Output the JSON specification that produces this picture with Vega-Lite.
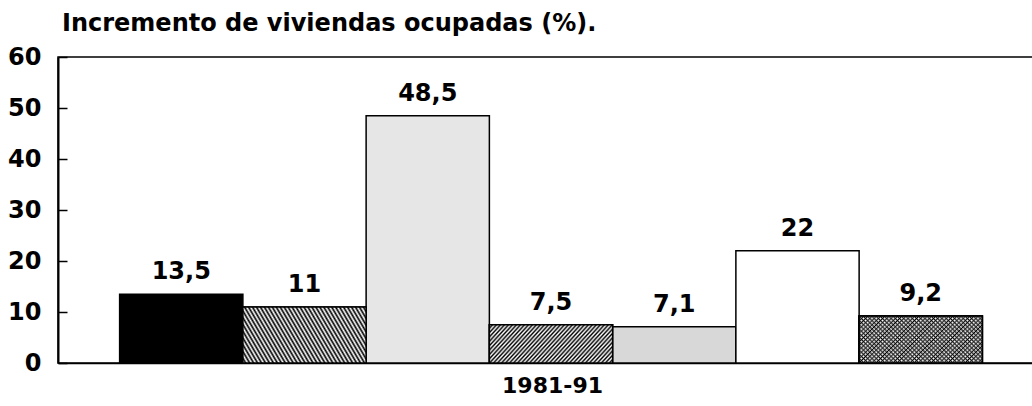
{
  "$schema": "https://vega.github.io/schema/vega-lite/v6.json",
  "width": 986,
  "height": 306,
  "autosize": {"type": "none"},
  "padding": {"left": 58, "top": 57, "right": 0, "bottom": 43},
  "background": "#ffffff",
  "config": {
    "view": {"stroke": "#000", "strokeWidth": 1.5},
    "font": "DejaVu Sans"
  },
  "title": {
    "text": "Incremento de viviendas ocupadas (%).",
    "anchor": "start",
    "frame": "group",
    "offset": 9,
    "dx": 4,
    "fontSize": 24,
    "font": "DejaVu Sans",
    "fontWeight": "bold",
    "color": "#000"
  },
  "data": {
    "values": [
      {"serie": "A", "valor": 13.5, "etiqueta": "13,5"},
      {"serie": "B", "valor": 11, "etiqueta": "11"},
      {"serie": "C", "valor": 48.5, "etiqueta": "48,5"},
      {"serie": "D", "valor": 7.5, "etiqueta": "7,5"},
      {"serie": "E", "valor": 7.1, "etiqueta": "7,1"},
      {"serie": "F", "valor": 22, "etiqueta": "22"},
      {"serie": "G", "valor": 9.2, "etiqueta": "9,2"}
    ]
  },
  "encoding": {
    "x": {
      "field": "serie",
      "type": "nominal",
      "sort": null,
      "scale": {"domain": ["A", "B", "C", "D", "E", "F", "G"], "paddingInner": 0, "paddingOuter": 0.5},
      "axis": {
        "title": "1981-91",
        "labels": false,
        "ticks": false,
        "domainColor": "#000",
        "domainWidth": 1.5,
        "titleFont": "DejaVu Sans",
        "titleFontSize": 22,
        "titleFontWeight": "bold",
        "titleColor": "#000",
        "titleX": 494,
        "titleY": 12,
        "titleBaseline": "top"
      }
    },
    "y": {
      "field": "valor",
      "type": "quantitative",
      "scale": {"domain": [0, 60]},
      "axis": {
        "title": null,
        "values": [0, 10, 20, 30, 40, 50, 60],
        "grid": false,
        "tickSize": -9,
        "tickWidth": 1.5,
        "tickColor": "#000",
        "domainColor": "#000",
        "domainWidth": 2,
        "labelFont": "DejaVu Sans",
        "labelFontSize": 24,
        "labelFontWeight": "bold",
        "labelColor": "#000",
        "labelPadding": 26
      }
    }
  },
  "layer": [
    {
      "mark": {"type": "bar", "stroke": "#000", "strokeWidth": 1.5},
      "encoding": {
        "fill": {
          "field": "serie",
          "type": "nominal",
          "scale": {"domain": ["A", "B", "C", "D", "E", "F", "G"], "range": ["#000000", "#ffffff", "#e6e6e6", "#ffffff", "#d8d8d8", "#ffffff", "#ffffff"]},
          "legend": null
        }
      }
    },
    {
      "transform": [{"filter": "datum.serie === 'B'"}],
      "mark": {
        "type": "bar", "stroke": "#000", "strokeWidth": 1.5,
        "fill": {"gradient": "linear", "x1": -0.1, "y1": 0.66, "x2": 1.1, "y2": 0.34, "stops": [
          {"offset":0,"color":"#000"},{"offset":0.0125,"color":"#fff"},{"offset":0.025,"color":"#000"},{"offset":0.0375,"color":"#fff"},{"offset":0.05,"color":"#000"},{"offset":0.0625,"color":"#fff"},{"offset":0.075,"color":"#000"},{"offset":0.0875,"color":"#fff"},{"offset":0.1,"color":"#000"},{"offset":0.1125,"color":"#fff"},{"offset":0.125,"color":"#000"},{"offset":0.1375,"color":"#fff"},{"offset":0.15,"color":"#000"},{"offset":0.1625,"color":"#fff"},{"offset":0.175,"color":"#000"},{"offset":0.1875,"color":"#fff"},{"offset":0.2,"color":"#000"},{"offset":0.2125,"color":"#fff"},{"offset":0.225,"color":"#000"},{"offset":0.2375,"color":"#fff"},{"offset":0.25,"color":"#000"},{"offset":0.2625,"color":"#fff"},{"offset":0.275,"color":"#000"},{"offset":0.2875,"color":"#fff"},{"offset":0.3,"color":"#000"},{"offset":0.3125,"color":"#fff"},{"offset":0.325,"color":"#000"},{"offset":0.3375,"color":"#fff"},{"offset":0.35,"color":"#000"},{"offset":0.3625,"color":"#fff"},{"offset":0.375,"color":"#000"},{"offset":0.3875,"color":"#fff"},{"offset":0.4,"color":"#000"},{"offset":0.4125,"color":"#fff"},{"offset":0.425,"color":"#000"},{"offset":0.4375,"color":"#fff"},{"offset":0.45,"color":"#000"},{"offset":0.4625,"color":"#fff"},{"offset":0.475,"color":"#000"},{"offset":0.4875,"color":"#fff"},{"offset":0.5,"color":"#000"},{"offset":0.5125,"color":"#fff"},{"offset":0.525,"color":"#000"},{"offset":0.5375,"color":"#fff"},{"offset":0.55,"color":"#000"},{"offset":0.5625,"color":"#fff"},{"offset":0.575,"color":"#000"},{"offset":0.5875,"color":"#fff"},{"offset":0.6,"color":"#000"},{"offset":0.6125,"color":"#fff"},{"offset":0.625,"color":"#000"},{"offset":0.6375,"color":"#fff"},{"offset":0.65,"color":"#000"},{"offset":0.6625,"color":"#fff"},{"offset":0.675,"color":"#000"},{"offset":0.6875,"color":"#fff"},{"offset":0.7,"color":"#000"},{"offset":0.7125,"color":"#fff"},{"offset":0.725,"color":"#000"},{"offset":0.7375,"color":"#fff"},{"offset":0.75,"color":"#000"},{"offset":0.7625,"color":"#fff"},{"offset":0.775,"color":"#000"},{"offset":0.7875,"color":"#fff"},{"offset":0.8,"color":"#000"},{"offset":0.8125,"color":"#fff"},{"offset":0.825,"color":"#000"},{"offset":0.8375,"color":"#fff"},{"offset":0.85,"color":"#000"},{"offset":0.8625,"color":"#fff"},{"offset":0.875,"color":"#000"},{"offset":0.8875,"color":"#fff"},{"offset":0.9,"color":"#000"},{"offset":0.9125,"color":"#fff"},{"offset":0.925,"color":"#000"},{"offset":0.9375,"color":"#fff"},{"offset":0.95,"color":"#000"},{"offset":0.9625,"color":"#fff"},{"offset":0.975,"color":"#000"},{"offset":0.9875,"color":"#fff"},{"offset":1,"color":"#000"}
        ]}
      }
    },
    {
      "transform": [{"filter": "datum.serie === 'D'"}],
      "mark": {
        "type": "bar", "stroke": "#000", "strokeWidth": 1.5,
        "fill": {"gradient": "linear", "x1": -0.1, "y1": 0.33, "x2": 1.1, "y2": 0.67, "stops": [
          {"offset":0,"color":"#000"},{"offset":0.0125,"color":"#fff"},{"offset":0.025,"color":"#000"},{"offset":0.0375,"color":"#fff"},{"offset":0.05,"color":"#000"},{"offset":0.0625,"color":"#fff"},{"offset":0.075,"color":"#000"},{"offset":0.0875,"color":"#fff"},{"offset":0.1,"color":"#000"},{"offset":0.1125,"color":"#fff"},{"offset":0.125,"color":"#000"},{"offset":0.1375,"color":"#fff"},{"offset":0.15,"color":"#000"},{"offset":0.1625,"color":"#fff"},{"offset":0.175,"color":"#000"},{"offset":0.1875,"color":"#fff"},{"offset":0.2,"color":"#000"},{"offset":0.2125,"color":"#fff"},{"offset":0.225,"color":"#000"},{"offset":0.2375,"color":"#fff"},{"offset":0.25,"color":"#000"},{"offset":0.2625,"color":"#fff"},{"offset":0.275,"color":"#000"},{"offset":0.2875,"color":"#fff"},{"offset":0.3,"color":"#000"},{"offset":0.3125,"color":"#fff"},{"offset":0.325,"color":"#000"},{"offset":0.3375,"color":"#fff"},{"offset":0.35,"color":"#000"},{"offset":0.3625,"color":"#fff"},{"offset":0.375,"color":"#000"},{"offset":0.3875,"color":"#fff"},{"offset":0.4,"color":"#000"},{"offset":0.4125,"color":"#fff"},{"offset":0.425,"color":"#000"},{"offset":0.4375,"color":"#fff"},{"offset":0.45,"color":"#000"},{"offset":0.4625,"color":"#fff"},{"offset":0.475,"color":"#000"},{"offset":0.4875,"color":"#fff"},{"offset":0.5,"color":"#000"},{"offset":0.5125,"color":"#fff"},{"offset":0.525,"color":"#000"},{"offset":0.5375,"color":"#fff"},{"offset":0.55,"color":"#000"},{"offset":0.5625,"color":"#fff"},{"offset":0.575,"color":"#000"},{"offset":0.5875,"color":"#fff"},{"offset":0.6,"color":"#000"},{"offset":0.6125,"color":"#fff"},{"offset":0.625,"color":"#000"},{"offset":0.6375,"color":"#fff"},{"offset":0.65,"color":"#000"},{"offset":0.6625,"color":"#fff"},{"offset":0.675,"color":"#000"},{"offset":0.6875,"color":"#fff"},{"offset":0.7,"color":"#000"},{"offset":0.7125,"color":"#fff"},{"offset":0.725,"color":"#000"},{"offset":0.7375,"color":"#fff"},{"offset":0.75,"color":"#000"},{"offset":0.7625,"color":"#fff"},{"offset":0.775,"color":"#000"},{"offset":0.7875,"color":"#fff"},{"offset":0.8,"color":"#000"},{"offset":0.8125,"color":"#fff"},{"offset":0.825,"color":"#000"},{"offset":0.8375,"color":"#fff"},{"offset":0.85,"color":"#000"},{"offset":0.8625,"color":"#fff"},{"offset":0.875,"color":"#000"},{"offset":0.8875,"color":"#fff"},{"offset":0.9,"color":"#000"},{"offset":0.9125,"color":"#fff"},{"offset":0.925,"color":"#000"},{"offset":0.9375,"color":"#fff"},{"offset":0.95,"color":"#000"},{"offset":0.9625,"color":"#fff"},{"offset":0.975,"color":"#000"},{"offset":0.9875,"color":"#fff"},{"offset":1,"color":"#000"}
        ]}
      }
    },
    {
      "transform": [{"filter": "datum.serie === 'G'"}],
      "mark": {
        "type": "bar", "stroke": "#000", "strokeWidth": 1.5,
        "fill": {"gradient": "linear", "x1": -0.1, "y1": 0.73, "x2": 1.1, "y2": 0.27, "stops": [
          {"offset":0,"color":"#000"},{"offset":0.0125,"color":"#fff"},{"offset":0.025,"color":"#000"},{"offset":0.0375,"color":"#fff"},{"offset":0.05,"color":"#000"},{"offset":0.0625,"color":"#fff"},{"offset":0.075,"color":"#000"},{"offset":0.0875,"color":"#fff"},{"offset":0.1,"color":"#000"},{"offset":0.1125,"color":"#fff"},{"offset":0.125,"color":"#000"},{"offset":0.1375,"color":"#fff"},{"offset":0.15,"color":"#000"},{"offset":0.1625,"color":"#fff"},{"offset":0.175,"color":"#000"},{"offset":0.1875,"color":"#fff"},{"offset":0.2,"color":"#000"},{"offset":0.2125,"color":"#fff"},{"offset":0.225,"color":"#000"},{"offset":0.2375,"color":"#fff"},{"offset":0.25,"color":"#000"},{"offset":0.2625,"color":"#fff"},{"offset":0.275,"color":"#000"},{"offset":0.2875,"color":"#fff"},{"offset":0.3,"color":"#000"},{"offset":0.3125,"color":"#fff"},{"offset":0.325,"color":"#000"},{"offset":0.3375,"color":"#fff"},{"offset":0.35,"color":"#000"},{"offset":0.3625,"color":"#fff"},{"offset":0.375,"color":"#000"},{"offset":0.3875,"color":"#fff"},{"offset":0.4,"color":"#000"},{"offset":0.4125,"color":"#fff"},{"offset":0.425,"color":"#000"},{"offset":0.4375,"color":"#fff"},{"offset":0.45,"color":"#000"},{"offset":0.4625,"color":"#fff"},{"offset":0.475,"color":"#000"},{"offset":0.4875,"color":"#fff"},{"offset":0.5,"color":"#000"},{"offset":0.5125,"color":"#fff"},{"offset":0.525,"color":"#000"},{"offset":0.5375,"color":"#fff"},{"offset":0.55,"color":"#000"},{"offset":0.5625,"color":"#fff"},{"offset":0.575,"color":"#000"},{"offset":0.5875,"color":"#fff"},{"offset":0.6,"color":"#000"},{"offset":0.6125,"color":"#fff"},{"offset":0.625,"color":"#000"},{"offset":0.6375,"color":"#fff"},{"offset":0.65,"color":"#000"},{"offset":0.6625,"color":"#fff"},{"offset":0.675,"color":"#000"},{"offset":0.6875,"color":"#fff"},{"offset":0.7,"color":"#000"},{"offset":0.7125,"color":"#fff"},{"offset":0.725,"color":"#000"},{"offset":0.7375,"color":"#fff"},{"offset":0.75,"color":"#000"},{"offset":0.7625,"color":"#fff"},{"offset":0.775,"color":"#000"},{"offset":0.7875,"color":"#fff"},{"offset":0.8,"color":"#000"},{"offset":0.8125,"color":"#fff"},{"offset":0.825,"color":"#000"},{"offset":0.8375,"color":"#fff"},{"offset":0.85,"color":"#000"},{"offset":0.8625,"color":"#fff"},{"offset":0.875,"color":"#000"},{"offset":0.8875,"color":"#fff"},{"offset":0.9,"color":"#000"},{"offset":0.9125,"color":"#fff"},{"offset":0.925,"color":"#000"},{"offset":0.9375,"color":"#fff"},{"offset":0.95,"color":"#000"},{"offset":0.9625,"color":"#fff"},{"offset":0.975,"color":"#000"},{"offset":0.9875,"color":"#fff"},{"offset":1,"color":"#000"}
        ]}
      }
    },
    {
      "transform": [{"filter": "datum.serie === 'G'"}],
      "mark": {
        "type": "bar", "stroke": "#000", "strokeWidth": 1.5,
        "fill": {"gradient": "linear", "x1": -0.1, "y1": 0.27, "x2": 1.1, "y2": 0.73, "stops": [
          {"offset":0,"color":"#000"},{"offset":0.0125,"color":"rgba(255,255,255,0)"},{"offset":0.025,"color":"#000"},{"offset":0.0375,"color":"rgba(255,255,255,0)"},{"offset":0.05,"color":"#000"},{"offset":0.0625,"color":"rgba(255,255,255,0)"},{"offset":0.075,"color":"#000"},{"offset":0.0875,"color":"rgba(255,255,255,0)"},{"offset":0.1,"color":"#000"},{"offset":0.1125,"color":"rgba(255,255,255,0)"},{"offset":0.125,"color":"#000"},{"offset":0.1375,"color":"rgba(255,255,255,0)"},{"offset":0.15,"color":"#000"},{"offset":0.1625,"color":"rgba(255,255,255,0)"},{"offset":0.175,"color":"#000"},{"offset":0.1875,"color":"rgba(255,255,255,0)"},{"offset":0.2,"color":"#000"},{"offset":0.2125,"color":"rgba(255,255,255,0)"},{"offset":0.225,"color":"#000"},{"offset":0.2375,"color":"rgba(255,255,255,0)"},{"offset":0.25,"color":"#000"},{"offset":0.2625,"color":"rgba(255,255,255,0)"},{"offset":0.275,"color":"#000"},{"offset":0.2875,"color":"rgba(255,255,255,0)"},{"offset":0.3,"color":"#000"},{"offset":0.3125,"color":"rgba(255,255,255,0)"},{"offset":0.325,"color":"#000"},{"offset":0.3375,"color":"rgba(255,255,255,0)"},{"offset":0.35,"color":"#000"},{"offset":0.3625,"color":"rgba(255,255,255,0)"},{"offset":0.375,"color":"#000"},{"offset":0.3875,"color":"rgba(255,255,255,0)"},{"offset":0.4,"color":"#000"},{"offset":0.4125,"color":"rgba(255,255,255,0)"},{"offset":0.425,"color":"#000"},{"offset":0.4375,"color":"rgba(255,255,255,0)"},{"offset":0.45,"color":"#000"},{"offset":0.4625,"color":"rgba(255,255,255,0)"},{"offset":0.475,"color":"#000"},{"offset":0.4875,"color":"rgba(255,255,255,0)"},{"offset":0.5,"color":"#000"},{"offset":0.5125,"color":"rgba(255,255,255,0)"},{"offset":0.525,"color":"#000"},{"offset":0.5375,"color":"rgba(255,255,255,0)"},{"offset":0.55,"color":"#000"},{"offset":0.5625,"color":"rgba(255,255,255,0)"},{"offset":0.575,"color":"#000"},{"offset":0.5875,"color":"rgba(255,255,255,0)"},{"offset":0.6,"color":"#000"},{"offset":0.6125,"color":"rgba(255,255,255,0)"},{"offset":0.625,"color":"#000"},{"offset":0.6375,"color":"rgba(255,255,255,0)"},{"offset":0.65,"color":"#000"},{"offset":0.6625,"color":"rgba(255,255,255,0)"},{"offset":0.675,"color":"#000"},{"offset":0.6875,"color":"rgba(255,255,255,0)"},{"offset":0.7,"color":"#000"},{"offset":0.7125,"color":"rgba(255,255,255,0)"},{"offset":0.725,"color":"#000"},{"offset":0.7375,"color":"rgba(255,255,255,0)"},{"offset":0.75,"color":"#000"},{"offset":0.7625,"color":"rgba(255,255,255,0)"},{"offset":0.775,"color":"#000"},{"offset":0.7875,"color":"rgba(255,255,255,0)"},{"offset":0.8,"color":"#000"},{"offset":0.8125,"color":"rgba(255,255,255,0)"},{"offset":0.825,"color":"#000"},{"offset":0.8375,"color":"rgba(255,255,255,0)"},{"offset":0.85,"color":"#000"},{"offset":0.8625,"color":"rgba(255,255,255,0)"},{"offset":0.875,"color":"#000"},{"offset":0.8875,"color":"rgba(255,255,255,0)"},{"offset":0.9,"color":"#000"},{"offset":0.9125,"color":"rgba(255,255,255,0)"},{"offset":0.925,"color":"#000"},{"offset":0.9375,"color":"rgba(255,255,255,0)"},{"offset":0.95,"color":"#000"},{"offset":0.9625,"color":"rgba(255,255,255,0)"},{"offset":0.975,"color":"#000"},{"offset":0.9875,"color":"rgba(255,255,255,0)"},{"offset":1,"color":"#000"}
        ]}
      }
    },
    {
      "mark": {"type": "text", "baseline": "bottom", "dy": -10, "fontSize": 24, "fontWeight": "bold", "font": "DejaVu Sans", "color": "#000"},
      "encoding": {"text": {"field": "etiqueta"}}
    }
  ]
}
